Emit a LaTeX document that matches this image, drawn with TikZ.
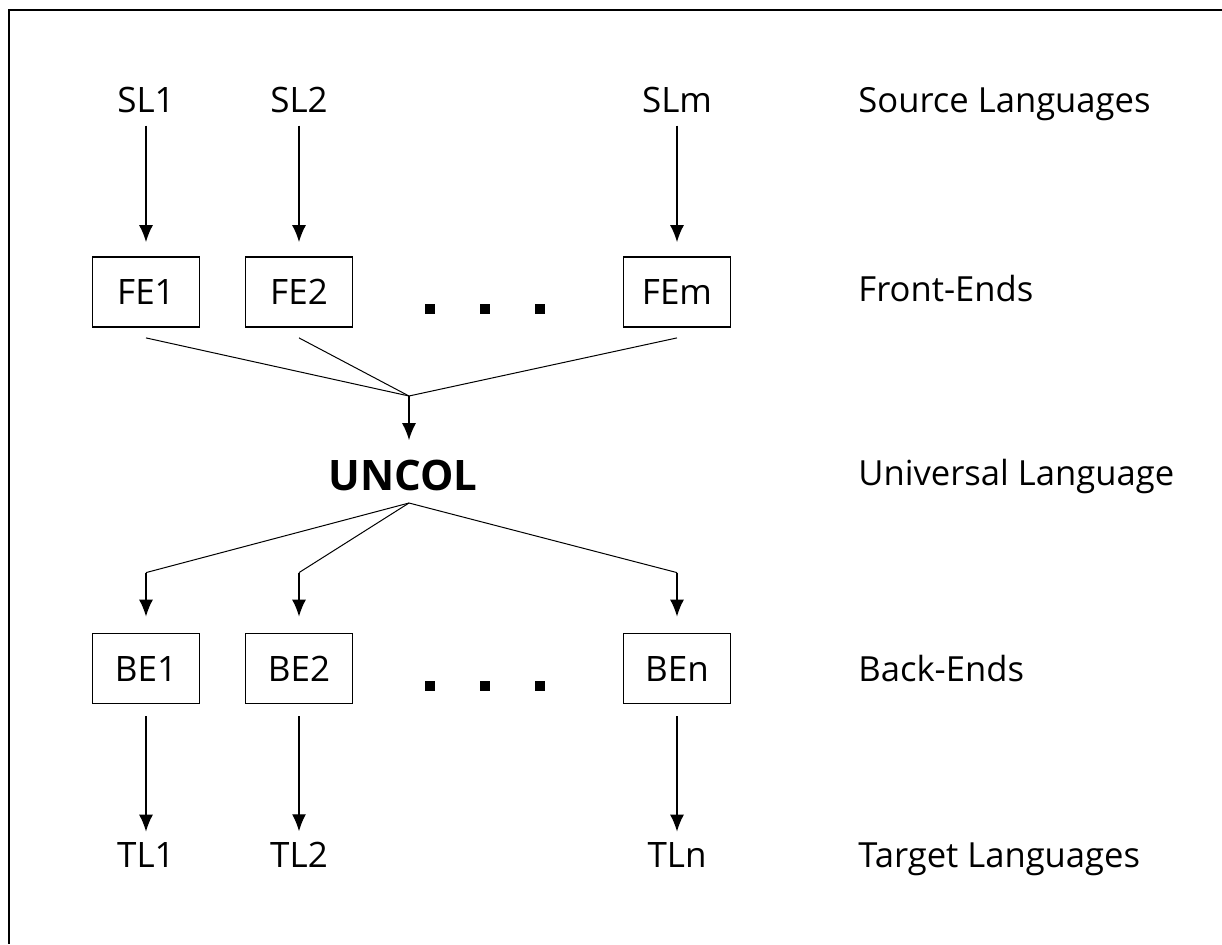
\documentclass[tikz,border=0pt]{standalone}
\usepackage{fontspec}
\setmainfont{Open Sans}
\usetikzlibrary{arrows.meta}
\tikzstyle{lang}=[inner sep=0pt,anchor=base,font=\fontsize{17.5}{20}\selectfont]
\tikzstyle{layer}=[inner sep=0pt,anchor=base west,font=\fontsize{17.3}{20}\selectfont]
\tikzstyle{endbox}=[draw,line width=0.9pt,minimum width=53.5pt,minimum height=35pt,inner sep=0pt,font=\fontsize{17.5}{20}\selectfont]
\tikzstyle{flow}=[-{Latex[length=8.5pt,width=7pt]},line width=0.7pt]
\tikzstyle{fan}=[line width=0.5pt]
\tikzstyle{bigdot}=[fill,minimum size=5pt,inner sep=0pt]
\newcommand{\dotrow}[1]{% three dots standing for the missing boxes
  \foreach \x in {430,485,540} { \node[bigdot] at (\x,#1) {}; }
}
\begin{document}
\begin{tikzpicture}[x=0.5pt,y=-0.5pt]
\useasboundingbox (0,0) rectangle (1222,944);
\draw[line width=1.4pt] (1222,10) -- (9,10) -- (9,944);

% source languages and front-ends
\node[lang] (SL1) at (146,112) {SL1};
\node[lang] (SL2) at (299,112) {SL2};
\node[lang] (SLm) at (677,112) {SLm};
\node[endbox] (FE1) at (146,292) {FE1};
\node[endbox] (FE2) at (299,292) {FE2};
\node[endbox] (FEm) at (677,292) {FEm};
\dotrow{309}
\foreach \i in {1,2,m}
  \draw[flow,shorten <=6.5pt,shorten >=7pt] (SL\i.south) -- (FE\i.north);

% universal language
\coordinate (join) at (409,396);
\coordinate (fork) at (409,503);
\node[inner sep=0pt,anchor=base,font=\fontsize{21}{24}\selectfont\bfseries] (UNCOL) at (403,490) {UNCOL};
\foreach \i in {1,2,m}
  \draw[fan] ([yshift=-5pt]FE\i.south) -- (join);
\draw[flow,shorten >=9.5pt] (join) -- (join |- UNCOL.north);

% back-ends and target languages
\node[endbox] (BE1) at (146,668.5) {BE1};
\node[endbox] (BE2) at (299,668.5) {BE2};
\node[endbox] (BEn) at (677,668.5) {BEn};
\dotrow{686}
\foreach \i in {1,2,n} {
  \coordinate (knee\i) at ([yshift=30pt]BE\i.north);
  \draw[fan] (fork) -- (knee\i);
  \draw[flow,shorten >=8pt] (knee\i) -- (BE\i.north);
}
\node[lang] (TL1) at (146,867) {TL1};
\node[lang] (TL2) at (299,867) {TL2};
\node[lang] (TLn) at (677,867) {TLn};
\foreach \i in {1,2,n}
  \draw[flow,shorten <=6pt,shorten >=5pt] (BE\i.south) -- (TL\i.north);

% layer names
\node[layer] (srcname) at (858,112) {Source Languages};
\node[layer] (fename) at (858,301) {Front-Ends};
\node[layer] (ulname) at (858,485) {Universal Language};
\node[layer] (bename) at (858,681) {Back-Ends};
\node[layer] (tgtname) at (858,867) {Target Languages};
\end{tikzpicture}
\end{document}
